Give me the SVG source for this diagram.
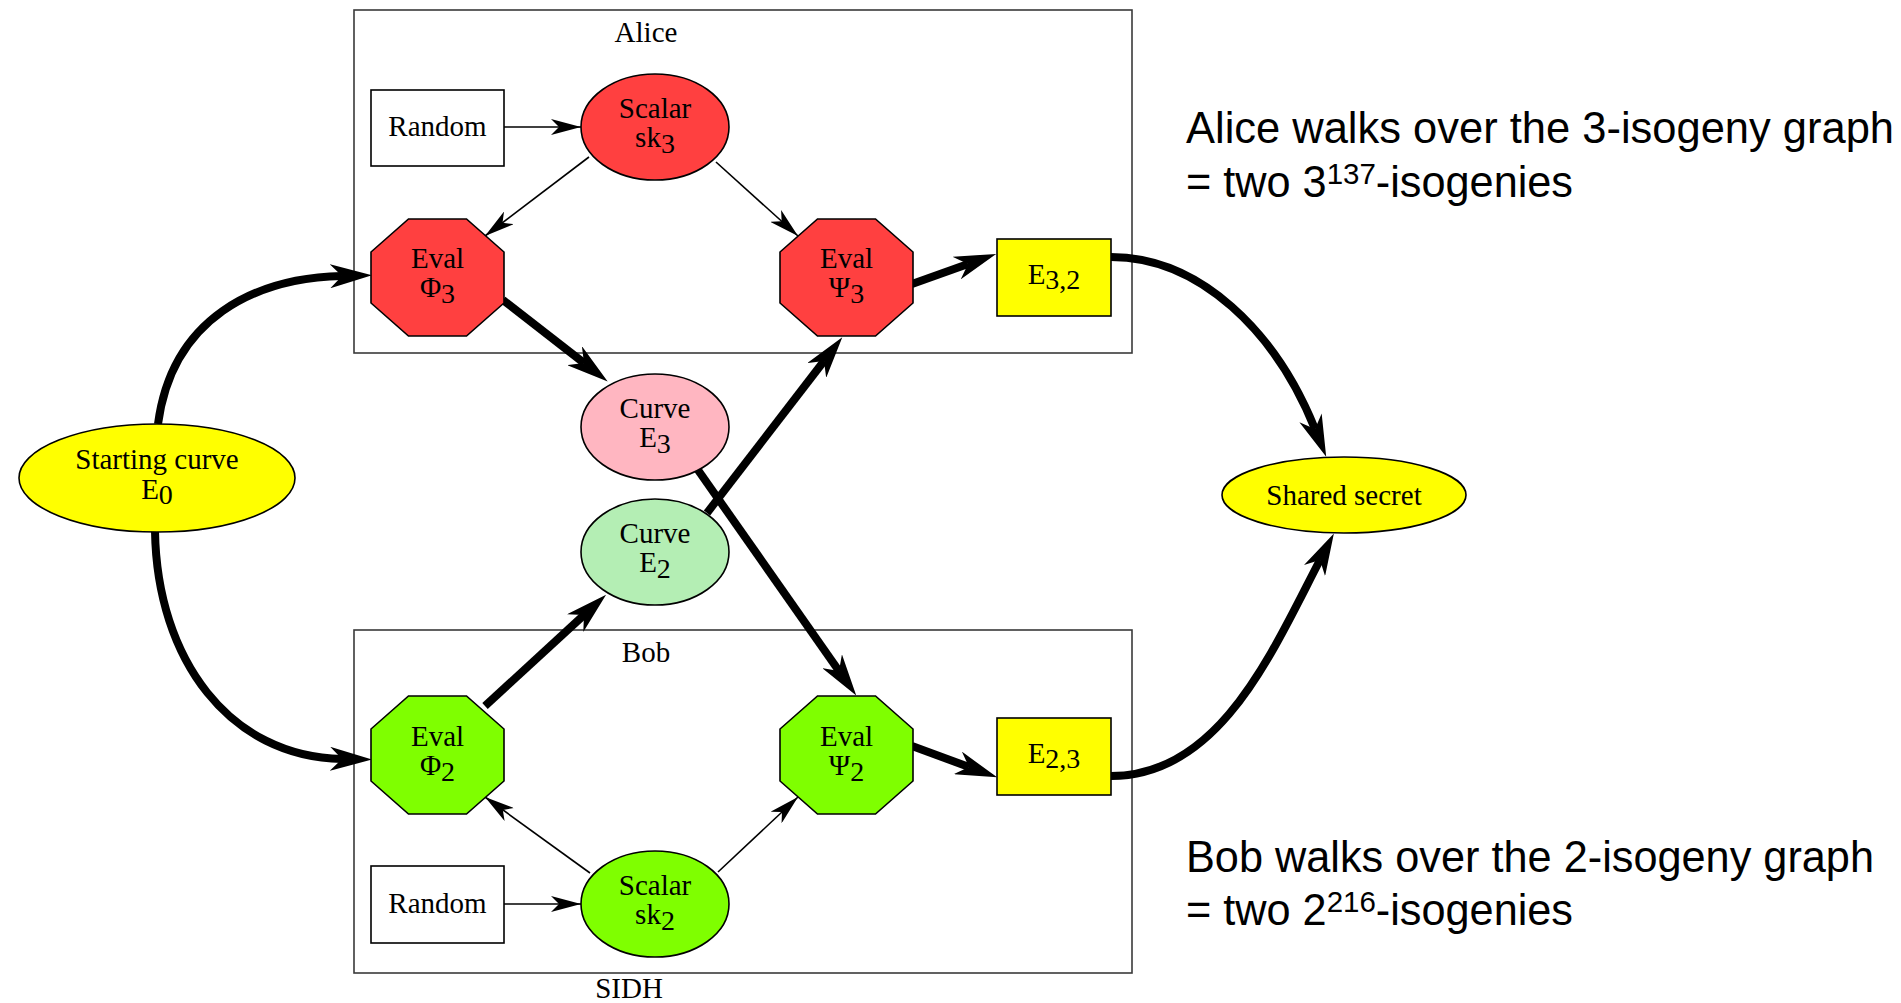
<svg xmlns="http://www.w3.org/2000/svg" width="1901" height="1003" viewBox="0 0 1901 1003">
  <style>
    .lbl { font-family: "Liberation Serif", "Times New Roman", serif; font-size: 29px; fill: #000; text-anchor: middle; }
    .sub { font-size: 28px; }
    .cluster { fill: none; stroke: #3a3a3a; stroke-width: 1.6; }
    .node { stroke: #000; stroke-width: 1.6; }
    .red { fill: #ff4040; }
    .green { fill: #7fff00; }
    .yellow { fill: #ffff00; }
    .pink { fill: #ffb6c1; }
    .mint { fill: #b4eeb4; }
    .white { fill: #fff; }
    .thin { fill: none; stroke: #000; stroke-width: 1.6; marker-end: url(#arrowThin); }
    .thick { fill: none; stroke: #000; stroke-width: 8; marker-end: url(#arrowThick); }
    .note { font-family: "Liberation Sans", Arial, sans-serif; font-size: 44px; fill: #000; }
    .sup { font-size: 30px; }
  </style>
  <defs>
    <marker id="arrowThin" markerUnits="userSpaceOnUse" viewBox="0 0 30 16" markerWidth="30" markerHeight="16" refX="30" refY="8" orient="auto">
      <path d="M30,8 L0,0 L8,8 L0,16 Z" fill="#000"/>
    </marker>
    <marker id="arrowThick" markerUnits="userSpaceOnUse" viewBox="0 0 42 24" markerWidth="42" markerHeight="24" refX="12" refY="12" orient="auto">
      <path d="M42,12 L0,0 L12,12 L0,24 Z" fill="#000"/>
    </marker>
  </defs>
  <rect width="1901" height="1003" fill="#fff"/>

  <!-- clusters -->
  <g id="cluster-alice">
    <rect class="cluster" x="354" y="10" width="778" height="343"/>
    <text class="lbl" x="646" y="42">Alice</text>
  </g>
  <g id="cluster-bob">
    <rect class="cluster" x="354" y="630" width="778" height="343"/>
    <text class="lbl" x="646" y="662">Bob</text>
  </g>
  <text id="graph-label" class="lbl" x="629" y="998">SIDH</text>

  <!-- connectors -->
  <g id="edges">
    <path class="thin" d="M504,127 L581,127"/>
    <path class="thin" d="M589,157 L485,236"/>
    <path class="thin" d="M716,162 L798,236"/>
    <path class="thin" d="M504,904 L581,904"/>
    <path class="thin" d="M590,873 L485,797"/>
    <path class="thin" d="M718,872 L798,797"/>
    <path class="thick" d="M158,424 C172,318 255,278 342,276"/>
    <path class="thick" d="M155,531 C157,660 230,757 342,759"/>
    <path class="thick" d="M503,300 L584,363"/>
    <path class="thick" d="M485,706 L584,615"/>
    <path class="thick" d="M707,513 L824,361"/>
    <path class="thick" d="M698,470 L839,671"/>
    <path class="thick" d="M912,284 L968,264"/>
    <path class="thick" d="M912,746 L969,767"/>
    <path class="thick" d="M1111,257 C1200,257 1276,332 1315,429"/>
    <path class="thick" d="M1111,776 C1220,776 1272,652 1320,560"/>
  </g>

  <!-- nodes -->
  <g id="start-curve">
    <ellipse class="node yellow" cx="157" cy="478" rx="138" ry="54"/>
    <text class="lbl" x="157" y="469">Starting curve</text>
    <text class="lbl" x="157" y="499">E<tspan class="sub" dy="5">0</tspan></text>
  </g>

  <g id="alice-random">
    <rect class="node white" x="371" y="90" width="133" height="76"/>
    <text class="lbl" x="437.5" y="136">Random</text>
  </g>
  <g id="alice-scalar">
    <ellipse class="node red" cx="655" cy="127" rx="74" ry="53"/>
    <text class="lbl" x="655" y="118">Scalar</text>
    <text class="lbl" x="655" y="147">sk<tspan class="sub" dy="6">3</tspan></text>
  </g>
  <g id="alice-eval-phi">
    <polygon class="node red" points="408.5,219 466.5,219 504,252 504,303 466.5,336 408.5,336 371,303 371,252"/>
    <text class="lbl" x="437.5" y="268">Eval</text>
    <text class="lbl" x="437.5" y="297">Φ<tspan class="sub" dy="6">3</tspan></text>
  </g>
  <g id="alice-eval-psi">
    <polygon class="node red" points="817.5,219 875.5,219 913,252 913,303 875.5,336 817.5,336 780,303 780,252"/>
    <text class="lbl" x="846.5" y="268">Eval</text>
    <text class="lbl" x="846.5" y="297">Ψ<tspan class="sub" dy="6">3</tspan></text>
  </g>
  <g id="alice-shared-curve">
    <rect class="node yellow" x="997" y="239" width="114" height="77"/>
    <text class="lbl" x="1054" y="284">E<tspan class="sub" dy="5">3,2</tspan></text>
  </g>

  <g id="curve-e3">
    <ellipse class="node pink" cx="655" cy="427" rx="74" ry="53"/>
    <text class="lbl" x="655" y="418">Curve</text>
    <text class="lbl" x="655" y="447">E<tspan class="sub" dy="6">3</tspan></text>
  </g>
  <g id="curve-e2">
    <ellipse class="node mint" cx="655" cy="552" rx="74" ry="53"/>
    <text class="lbl" x="655" y="543">Curve</text>
    <text class="lbl" x="655" y="572">E<tspan class="sub" dy="6">2</tspan></text>
  </g>

  <g id="bob-eval-phi">
    <polygon class="node green" points="408.5,696 466.5,696 504,729 504,781 466.5,814 408.5,814 371,781 371,729"/>
    <text class="lbl" x="437.5" y="746">Eval</text>
    <text class="lbl" x="437.5" y="775">Φ<tspan class="sub" dy="6">2</tspan></text>
  </g>
  <g id="bob-eval-psi">
    <polygon class="node green" points="817.5,696 875.5,696 913,729 913,781 875.5,814 817.5,814 780,781 780,729"/>
    <text class="lbl" x="846.5" y="746">Eval</text>
    <text class="lbl" x="846.5" y="775">Ψ<tspan class="sub" dy="6">2</tspan></text>
  </g>
  <g id="bob-shared-curve">
    <rect class="node yellow" x="997" y="718" width="114" height="77"/>
    <text class="lbl" x="1054" y="763">E<tspan class="sub" dy="5">2,3</tspan></text>
  </g>
  <g id="bob-random">
    <rect class="node white" x="371" y="866" width="133" height="77"/>
    <text class="lbl" x="437.5" y="913">Random</text>
  </g>
  <g id="bob-scalar">
    <ellipse class="node green" cx="655" cy="904" rx="74" ry="53"/>
    <text class="lbl" x="655" y="895">Scalar</text>
    <text class="lbl" x="655" y="924">sk<tspan class="sub" dy="6">2</tspan></text>
  </g>

  <g id="shared-secret">
    <ellipse class="node yellow" cx="1344" cy="495" rx="122" ry="38"/>
    <text class="lbl" x="1344" y="505">Shared secret</text>
  </g>

  <!-- side notes -->
  <g id="note-alice">
    <text class="note" x="1186" y="143" textLength="708" lengthAdjust="spacingAndGlyphs">Alice walks over the 3-isogeny graph</text>
    <text class="note" x="1186" y="197" textLength="387" lengthAdjust="spacingAndGlyphs">= two 3<tspan class="sup" dy="-13">137</tspan><tspan dy="13">-isogenies</tspan></text>
  </g>
  <g id="note-bob">
    <text class="note" x="1186" y="872" textLength="688" lengthAdjust="spacingAndGlyphs">Bob walks over the 2-isogeny graph</text>
    <text class="note" x="1186" y="925" textLength="387" lengthAdjust="spacingAndGlyphs">= two 2<tspan class="sup" dy="-13">216</tspan><tspan dy="13">-isogenies</tspan></text>
  </g>
</svg>
